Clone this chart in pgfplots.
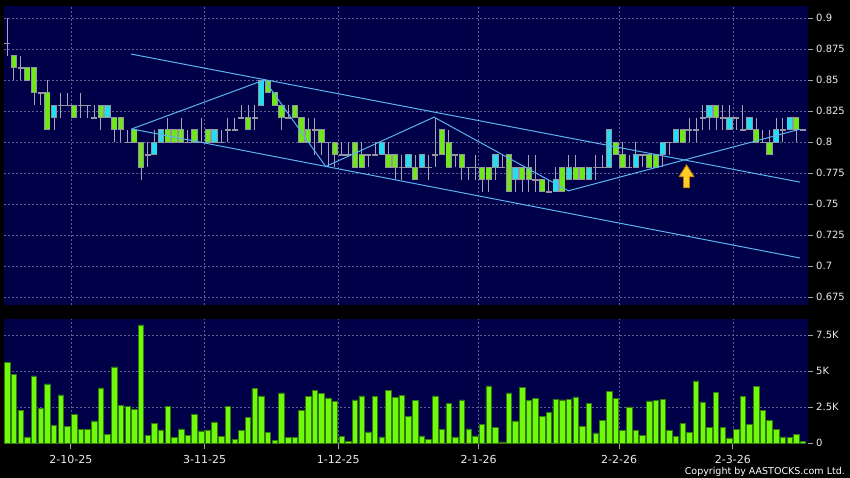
\documentclass[border=0pt]{standalone}
\usepackage{fontspec}
\setmainfont{DejaVu Sans}
\usepackage{pgfplots}
\usepackage{pgfplotstable}
\pgfplotsset{compat=1.18}
\definecolor{bgnavy}{RGB}{0,0,72}
\definecolor{gridcol}{RGB}{95,95,145}
\definecolor{wickcol}{RGB}{165,165,175}
\definecolor{boxcol}{RGB}{150,150,160}
\definecolor{upcol}{RGB}{34,222,240}
\definecolor{downcol}{RGB}{110,232,24}
\definecolor{volfill}{RGB}{110,250,10}
\definecolor{voledge}{RGB}{50,120,10}
\definecolor{trendcol}{RGB}{90,180,240}
\definecolor{labcol}{RGB}{235,235,235}
\definecolor{arrowfill}{RGB}{255,205,40}
\definecolor{arrowedge}{RGB}{200,120,0}

\pgfplotstableread{
i O H L C
0 0.88 0.90 0.87 0.88
1 0.87 0.87 0.85 0.86
2 0.86 0.87 0.85 0.86
3 0.86 0.86 0.85 0.85
4 0.86 0.86 0.83 0.84
5 0.84 0.84 0.83 0.84
6 0.84 0.85 0.81 0.81
7 0.82 0.83 0.81 0.83
8 0.83 0.84 0.82 0.83
9 0.83 0.84 0.83 0.83
10 0.83 0.83 0.82 0.82
11 0.83 0.84 0.82 0.83
12 0.83 0.83 0.82 0.83
13 0.82 0.83 0.82 0.82
14 0.83 0.83 0.81 0.82
15 0.82 0.83 0.82 0.83
16 0.82 0.82 0.80 0.81
17 0.82 0.82 0.80 0.81
18 0.80 0.81 0.80 0.80
19 0.81 0.81 0.80 0.80
20 0.80 0.80 0.77 0.78
21 0.79 0.80 0.78 0.79
22 0.79 0.81 0.79 0.80
23 0.80 0.81 0.80 0.81
24 0.81 0.82 0.80 0.80
25 0.81 0.81 0.80 0.80
26 0.81 0.82 0.80 0.80
27 0.80 0.81 0.80 0.80
28 0.81 0.81 0.80 0.80
29 0.80 0.82 0.80 0.80
30 0.81 0.81 0.80 0.80
31 0.80 0.81 0.80 0.81
32 0.80 0.81 0.80 0.80
33 0.81 0.82 0.80 0.81
34 0.81 0.82 0.81 0.81
35 0.82 0.83 0.82 0.82
36 0.82 0.83 0.81 0.81
37 0.82 0.83 0.81 0.82
38 0.83 0.85 0.83 0.85
39 0.85 0.85 0.84 0.84
40 0.84 0.84 0.83 0.83
41 0.83 0.83 0.81 0.82
42 0.82 0.83 0.82 0.82
43 0.83 0.83 0.82 0.82
44 0.82 0.82 0.80 0.80
45 0.81 0.82 0.80 0.80
46 0.81 0.82 0.79 0.81
47 0.81 0.81 0.79 0.80
48 0.80 0.80 0.78 0.80
49 0.80 0.80 0.78 0.79
50 0.79 0.80 0.79 0.79
51 0.79 0.80 0.79 0.79
52 0.80 0.80 0.78 0.78
53 0.79 0.80 0.78 0.78
54 0.79 0.79 0.78 0.79
55 0.79 0.80 0.79 0.79
56 0.79 0.80 0.79 0.80
57 0.79 0.80 0.78 0.78
58 0.79 0.79 0.77 0.78
59 0.78 0.79 0.77 0.78
60 0.78 0.79 0.78 0.79
61 0.78 0.79 0.77 0.77
62 0.78 0.79 0.78 0.79
63 0.78 0.79 0.77 0.78
64 0.79 0.82 0.78 0.79
65 0.81 0.81 0.79 0.79
66 0.80 0.81 0.78 0.78
67 0.79 0.79 0.78 0.79
68 0.79 0.79 0.77 0.78
69 0.78 0.78 0.77 0.78
70 0.78 0.79 0.77 0.78
71 0.78 0.78 0.76 0.77
72 0.78 0.78 0.76 0.77
73 0.78 0.79 0.77 0.79
74 0.78 0.79 0.78 0.78
75 0.79 0.79 0.76 0.76
76 0.77 0.78 0.76 0.78
77 0.78 0.78 0.76 0.77
78 0.78 0.79 0.76 0.77
79 0.77 0.79 0.76 0.77
80 0.77 0.77 0.76 0.76
81 0.76 0.77 0.76 0.76
82 0.76 0.78 0.76 0.77
83 0.78 0.78 0.76 0.76
84 0.77 0.79 0.77 0.78
85 0.78 0.79 0.77 0.77
86 0.78 0.78 0.77 0.77
87 0.77 0.78 0.77 0.78
88 0.78 0.79 0.77 0.78
89 0.78 0.79 0.78 0.78
90 0.78 0.81 0.78 0.81
91 0.80 0.80 0.79 0.79
92 0.79 0.80 0.78 0.78
93 0.78 0.79 0.78 0.78
94 0.78 0.80 0.78 0.79
95 0.79 0.79 0.78 0.79
96 0.79 0.79 0.78 0.78
97 0.79 0.79 0.78 0.78
98 0.79 0.80 0.78 0.80
99 0.80 0.80 0.79 0.80
100 0.80 0.81 0.80 0.81
101 0.81 0.81 0.80 0.80
102 0.81 0.82 0.80 0.81
103 0.81 0.82 0.80 0.81
104 0.82 0.83 0.81 0.82
105 0.82 0.83 0.81 0.83
106 0.83 0.83 0.81 0.82
107 0.82 0.83 0.81 0.82
108 0.81 0.83 0.81 0.82
109 0.82 0.82 0.81 0.82
110 0.81 0.83 0.81 0.81
111 0.81 0.82 0.81 0.82
112 0.81 0.82 0.80 0.80
113 0.80 0.81 0.80 0.80
114 0.80 0.81 0.79 0.79
115 0.80 0.82 0.80 0.81
116 0.81 0.82 0.80 0.81
117 0.81 0.82 0.81 0.82
118 0.82 0.82 0.80 0.81
119 0.81 0.81 0.81 0.81
}\ohlc

\pgfplotstableread{
i v
0 5.63
1 4.77
2 2.29
3 0.44
4 4.68
5 2.41
6 4.12
7 1.23
8 3.36
9 1.18
10 1.99
11 0.95
12 0.95
13 1.55
14 3.84
15 0.63
16 5.30
17 2.64
18 2.57
19 2.34
20 8.22
21 0.53
22 1.37
23 0.93
24 2.57
25 0.39
26 1.00
27 0.53
28 1.99
29 0.86
30 0.93
31 1.48
32 0.46
33 2.55
34 0.28
35 0.90
36 1.81
37 3.80
38 3.29
39 0.76
40 0.21
41 3.50
42 0.42
43 0.42
44 2.29
45 3.24
46 3.70
47 3.47
48 3.15
49 2.92
50 0.46
51 0.12
52 3.01
53 3.29
54 0.79
55 3.24
56 0.44
57 3.66
58 3.17
59 3.33
60 1.88
61 2.99
62 0.51
63 0.25
64 3.29
65 0.95
66 2.78
67 0.44
68 3.01
69 1.00
70 0.51
71 1.30
72 3.98
73 1.11
74 0.09
75 3.50
76 1.55
77 3.89
78 2.96
79 3.10
80 1.85
81 2.13
82 3.06
83 3.01
84 3.03
85 3.22
86 1.20
87 2.75
88 0.72
89 1.57
90 3.59
91 3.13
92 0.88
93 2.52
94 0.90
95 0.53
96 2.94
97 2.99
98 3.06
99 0.88
100 0.46
101 1.39
102 0.74
103 4.33
104 2.87
105 1.11
106 3.54
107 1.13
108 0.37
109 0.97
110 3.24
111 1.32
112 3.94
113 2.27
114 1.57
115 0.95
116 0.44
117 0.39
118 0.60
119 0.12
}\vol

\pgfplotsset{
  panel/.style={
    scale only axis, width=803.7bp, anchor=south west,
    xmin=-0.49, xmax=119.7, enlargelimits=false,
    axis background/.style={fill=bgnavy},
    axis line style={draw=none},
    xtick={9.5,29.5,49.5,70.5,91.5,108.5},
    xmajorgrids, ymajorgrids,
    grid style={gridcol, dash pattern=on 2bp off 2bp, line width=0.6bp},
    tick align=outside,
    ytick pos=right, yticklabel pos=right,
    major tick length=5bp,
    tick style={wickcol, line width=0.8bp},
    yticklabel style={font=\fontsize{10bp}{12bp}\selectfont, text=labcol},
    xticklabel style={font=\fontsize{11bp}{13bp}\selectfont, text=labcol, yshift=-2.5bp},
  },
  errbar/.style={draw=none, mark=none, forget plot},
}

\begin{document}
\begin{tikzpicture}
\useasboundingbox (0,0) rectangle (850bp,478bp);
\fill[black] (0,0) rectangle (850bp,478bp);

% price panel
\begin{axis}[panel,
  at={(4bp,173bp)}, height=299.3bp,
  ymin=0.6688, ymax=0.9102,
  ytick={0.675,0.7,0.725,0.75,0.775,0.8,0.825,0.85,0.875,0.9},
  yticklabels={0.675,0.7,0.725,0.75,0.775,0.8,0.825,0.85,0.875,0.9},
  xticklabels={}, xtick style={draw=none},
]
% wicks
\addplot[errbar, error bars/.cd, y dir=plus, y explicit, error mark=none,
  error bar style={draw=wickcol, line width=1bp}]
  table[x=i, y=L, y error plus expr=\thisrow{H}-\thisrow{L}] {\ohlc};
% body outlines (and doji lines)
\addplot[errbar, error bars/.cd, y dir=both, y explicit, error mark=none,
  error bar style={draw=boxcol, line width=6.2bp}]
  table[x=i, y expr=(\thisrow{O}+\thisrow{C})/2, y error expr=abs(\thisrow{C}-\thisrow{O})/2+0.0004] {\ohlc};
% up bodies
\addplot[errbar, restrict expr to domain={\thisrow{C}-\thisrow{O}}{0.001:1},
  error bars/.cd, y dir=both, y explicit, error mark=none,
  error bar style={draw=upcol, line width=4.6bp}]
  table[x=i, y expr=(\thisrow{O}+\thisrow{C})/2, y error expr=abs(\thisrow{C}-\thisrow{O})/2-0.0004] {\ohlc};
% down bodies
\addplot[errbar, restrict expr to domain={\thisrow{C}-\thisrow{O}}{-1:-0.001},
  error bars/.cd, y dir=both, y explicit, error mark=none,
  error bar style={draw=downcol, line width=4.6bp}]
  table[x=i, y expr=(\thisrow{O}+\thisrow{C})/2, y error expr=abs(\thisrow{C}-\thisrow{O})/2-0.0004] {\ohlc};
% trend lines
\addplot[trendcol, line width=1bp, mark=none] coordinates {(18.5,0.8712) (118.56,0.7679)};
\addplot[trendcol, line width=1bp, mark=none] coordinates {(18.61,0.8108) (118.56,0.7067)};
\addplot[trendcol, line width=1bp, mark=none] coordinates {
  (18.61,0.8108) (38.44,0.8503) (47.62,0.7805) (63.82,0.8203) (83.91,0.7609) (118.56,0.8106)};
% arrow
\addplot[fill=arrowfill, draw=arrowedge, line width=0.8bp, mark=none] coordinates {
  (101.58,0.78185) (102.71,0.77218) (102.03,0.77218) (102.03,0.76332)
  (101.14,0.76332) (101.14,0.77218) (100.46,0.77218)} -- cycle;
\end{axis}

% volume panel
\begin{axis}[panel,
  at={(4bp,33.7bp)}, height=125.3bp,
  ymin=-0.07, ymax=8.63,
  ytick={0,2.5,5,7.5},
  yticklabels={0,2.5K,5K,7.5K},
  xticklabels={2-10-25,3-11-25,1-12-25,2-1-26,2-2-26,2-3-26},
  xtick pos=left,
  major x tick style={wickcol, line width=0.8bp},
  ybar, bar width=5.5bp,
]
\addplot[fill=volfill, draw=voledge, line width=0.7bp] table[x=i, y=v] {\vol};
\end{axis}

\node[anchor=base east, text=white, font=\fontsize{9.5bp}{11bp}\selectfont, inner sep=0pt]
  at (845bp,4bp) {Copyright by AASTOCKS.com Ltd.};
\end{tikzpicture}
\end{document}
